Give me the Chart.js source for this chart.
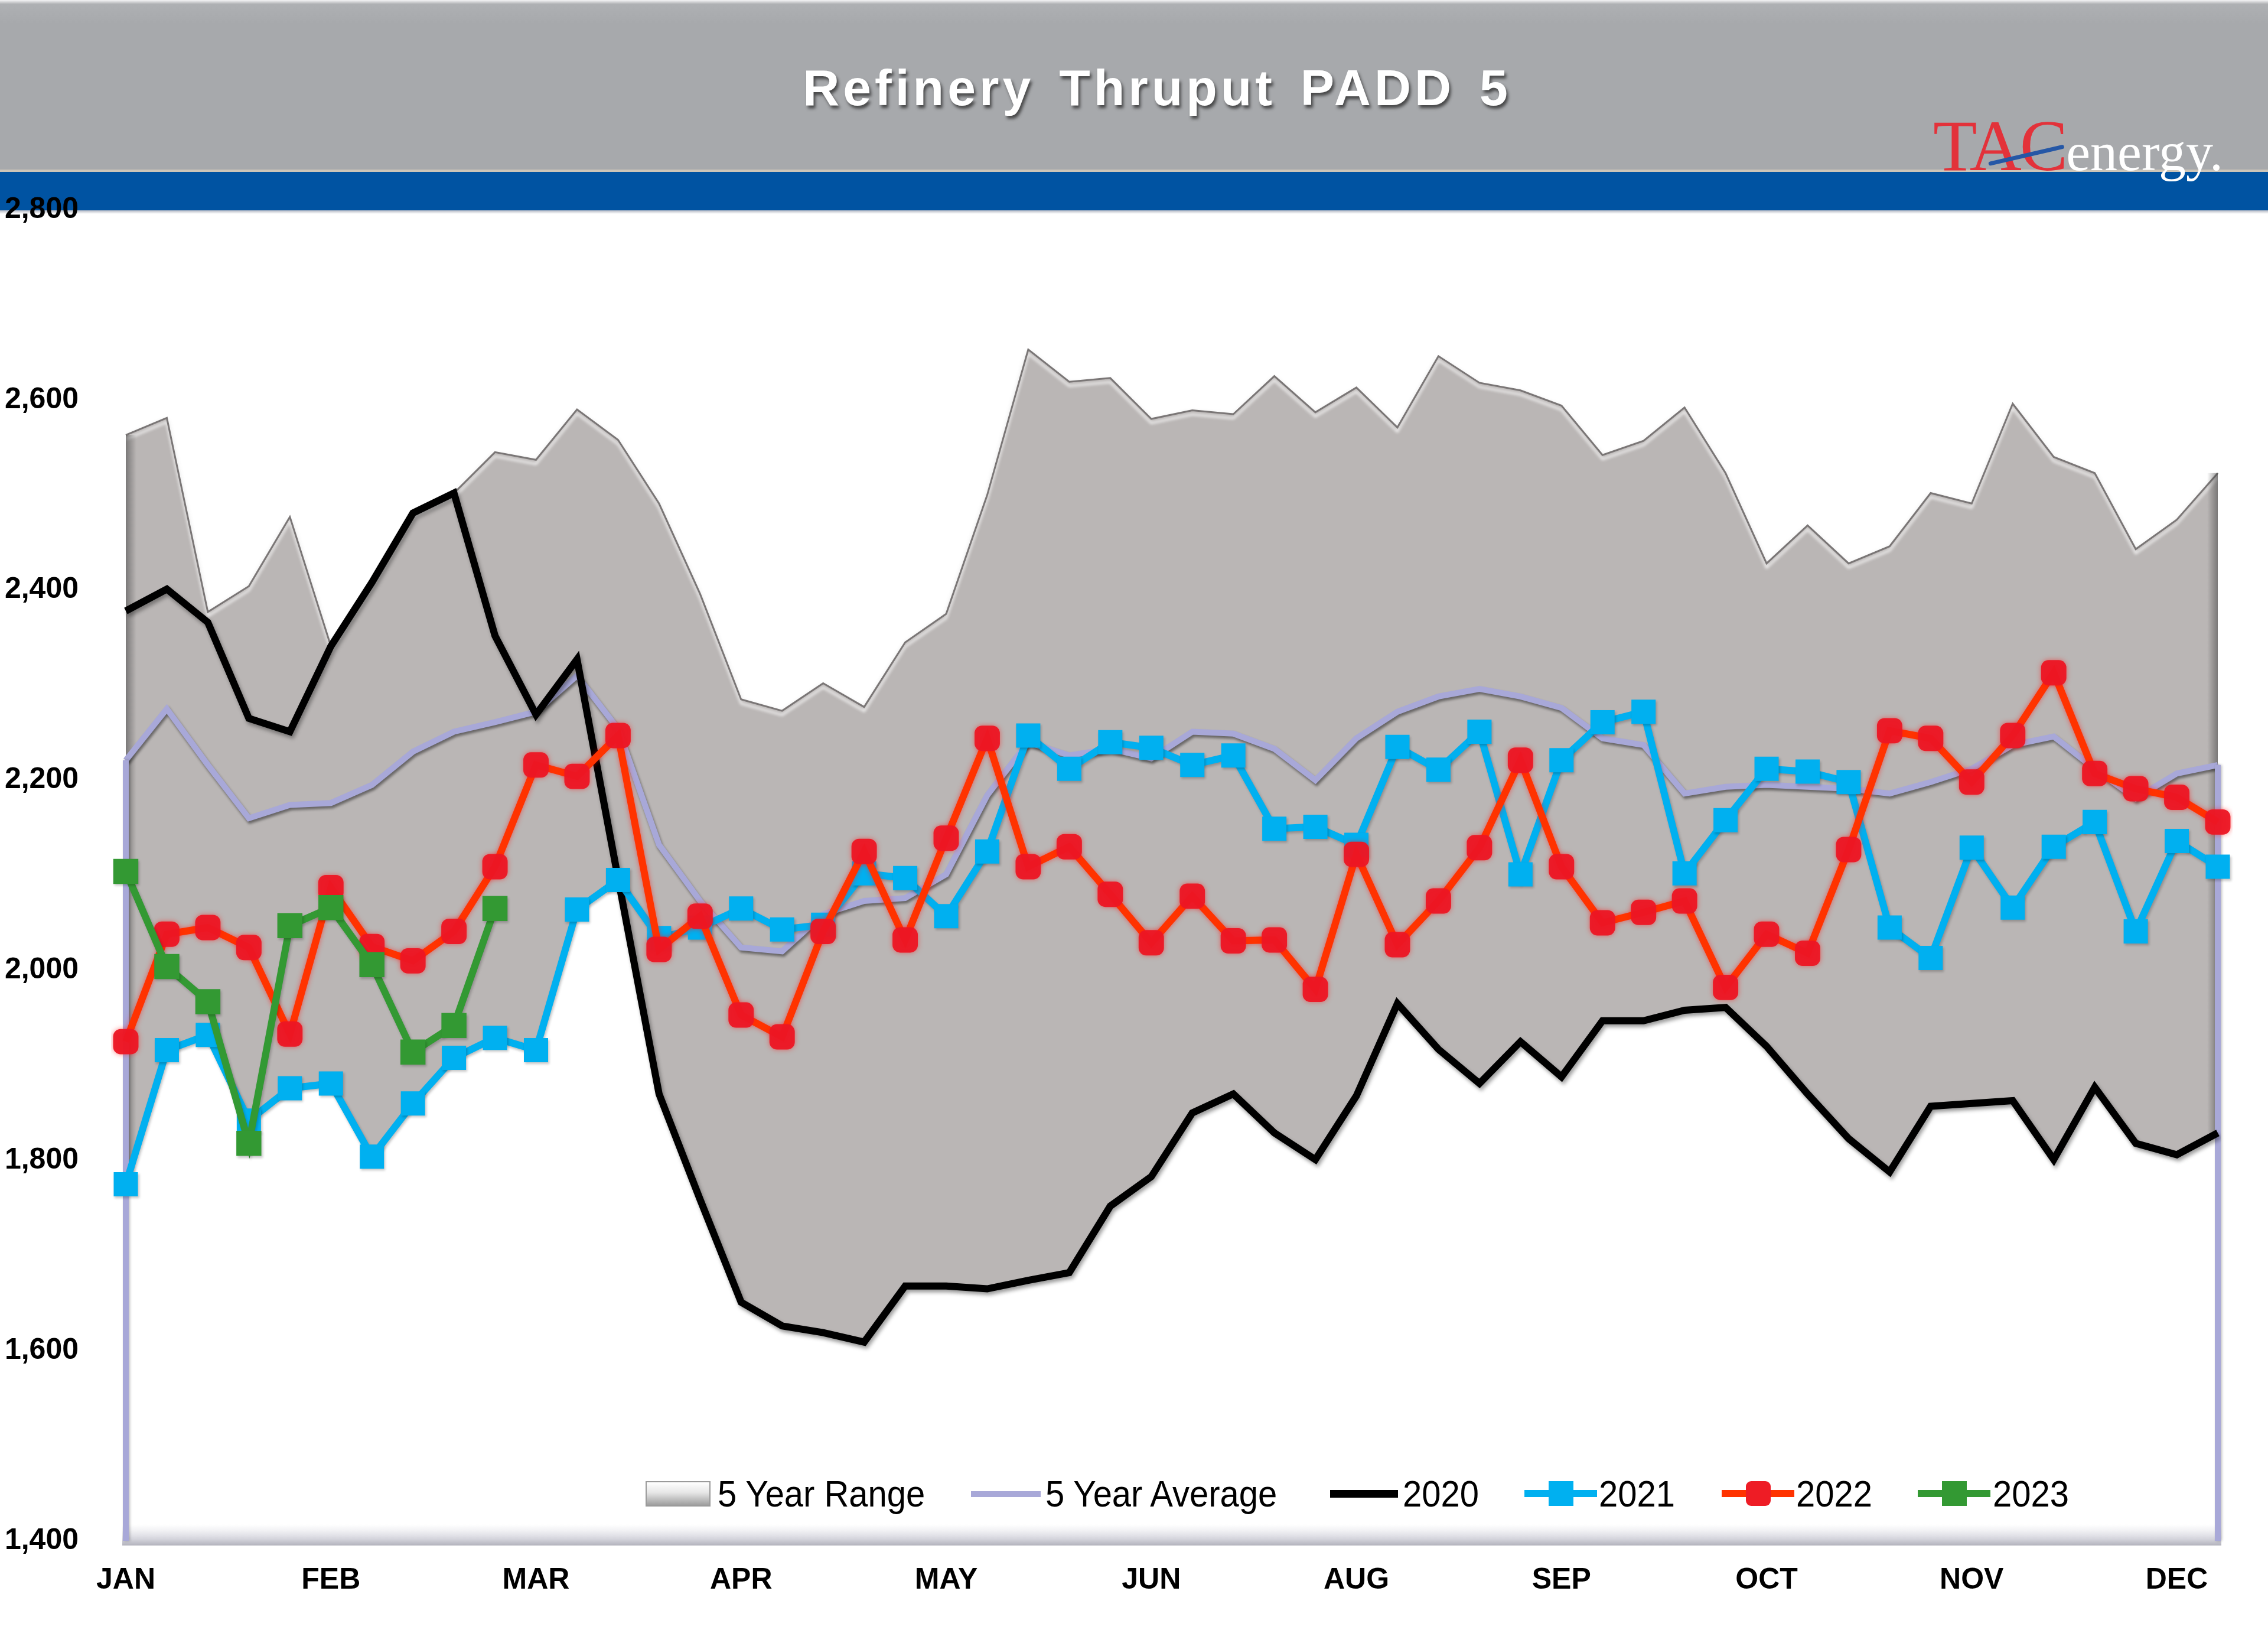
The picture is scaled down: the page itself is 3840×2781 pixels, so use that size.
<!DOCTYPE html>
<html>
<head>
<meta charset="utf-8">
<title>Refinery Thruput PADD 5</title>
<script src="https://cdn.jsdelivr.net/npm/chart.js@4.4.1/dist/chart.umd.min.js"></script>
<style>
  html, body { margin:0; padding:0; background:#ffffff; }
  body { width:3840px; height:2781px; position:relative; overflow:hidden; font-family:'Liberation Sans', Arial, sans-serif; }
  #hdr { position:absolute; left:0; top:0; width:3840px; height:290px;
         background:linear-gradient(to bottom, #f4f4f5 0px, #aeb0b3 7px, #a7a9ac 40px, #a7a9ac 100%); }
  #hdrline { position:absolute; left:0; top:287px; width:3840px; height:4px; background:#cdc5b8; }
  #band { position:absolute; left:0; top:291px; width:3840px; height:65px; background:#0053a2; }
  #bandline { position:absolute; left:0; top:356px; width:3840px; height:6px; background:linear-gradient(#b4b9c4, #ffffff); }
  #title { position:absolute; left:1959px; top:105px; transform:translateX(-50%); white-space:nowrap;
           font: bold 86px/86px 'Liberation Sans', Arial, sans-serif; letter-spacing:6px; word-spacing:12px; color:#ffffff;
           text-shadow: 3px 5px 5px rgba(40,40,40,0.75); }
  #logo { position:absolute; left:3273px; top:186px; white-space:nowrap; font-family:'Liberation Serif','Times New Roman',serif; font-size:122px; line-height:122px; }
  #logo .tac { color:#e3323a; letter-spacing:-3px; }
  #logo .en { color:#ffffff; font-size:92px; }
  #slash { position:absolute; left:3367px; top:274px; width:131px; height:7px; background:#2557a6; transform-origin:0 50%; transform:rotate(-13deg); border-radius:3px; }
  #wrap { position:absolute; left:0; top:0; width:3840px; height:2781px; }
  .lg { position:absolute; }
  .lt { position:absolute; top:2497px; font: 63px/63px 'Liberation Sans', Arial, sans-serif; color:#000; transform-origin:0 0; transform:scaleX(0.92); white-space:nowrap; }
</style>
</head>
<body>
<div id="hdr"></div>
<div id="hdrline"></div>
<div id="band"></div>
<div id="bandline"></div>
<div id="title">Refinery Thruput PADD 5</div>
<div id="logo"><span class="tac">TAC</span><span class="en">energy.</span></div>
<div id="slash"></div>
<div id="wrap"><canvas id="c"></canvas></div>

<!-- legend -->
<div class="lg" style="left:1093px;top:2507px;width:106px;height:39px;border:2px solid #9a9a9a;background:linear-gradient(#ffffff,#e6e6e6 45%,#9d9d9d);"></div>
<div class="lt" style="left:1215px;">5 Year Range</div>
<div class="lg" style="left:1644px;top:2524px;width:118px;height:10px;background:#a8a8d8;"></div>
<div class="lt" style="left:1770px;">5 Year Average</div>
<div class="lg" style="left:2252px;top:2522px;width:115px;height:13px;background:#000000;"></div>
<div class="lt" style="left:2375px;">2020</div>
<div class="lg" style="left:2581px;top:2522px;width:123px;height:12px;background:#00b0f0;"></div>
<div class="lg" style="left:2622px;top:2507px;width:42px;height:42px;background:#00b0f0;"></div>
<div class="lt" style="left:2707px;">2021</div>
<div class="lg" style="left:2915px;top:2522px;width:123px;height:12px;background:#ff3300;"></div>
<div class="lg" style="left:2956px;top:2507px;width:42px;height:42px;background:#ee1c25;border-radius:9px;"></div>
<div class="lt" style="left:3041px;">2022</div>
<div class="lg" style="left:3247px;top:2522px;width:123px;height:12px;background:#339933;"></div>
<div class="lg" style="left:3288px;top:2507px;width:42px;height:42px;background:#339933;"></div>
<div class="lt" style="left:3374px;">2023</div>

<script>
// ---- data (kb/d), weekly ----
const weekLabels = [1,2,3,4,5,6,7,8,9,10,11,12,13,14,15,16,17,18,19,20,21,22,23,24,25,26,
                    27,28,29,30,31,32,33,34,35,36,37,38,39,40,41,42,43,44,45,46,47,48,49,50,51,52];
const monthTicks = ['JAN','FEB','MAR','APR','MAY','JUN','AUG','SEP','OCT','NOV','DEC'];

const range5High = [2563,2581,2377,2404,2477,2341,2408,2481,2502,2545,2537,2590,2558,2491,2396,2285,2273,2302,2277,2345,
                    2375,2500,2653,2619,2623,2580,2589,2585,2625,2587,2613,2571,2646,2618,2610,2594,2542,2557,2592,2523,
                    2428,2468,2428,2446,2502,2491,2596,2540,2523,2443,2474,2523];
const range5Low  = [1775,1916,1932,1842,1876,1881,1804,1860,1908,1929,1916,2064,2095,1870,1759,1651,1626,1619,1609,1668,
                    1668,1665,1674,1682,1752,1783,1850,1870,1829,1801,1868,1965,1917,1881,1925,1888,1947,1947,1958,1961,
                    1920,1870,1823,1788,1857,1860,1863,1801,1877,1818,1806,1829];
const avg5       = [2221,2275,2216,2160,2174,2176,2195,2230,2251,2261,2272,2310,2254,2132,2073,2024,2020,2059,2073,2076,
                    2101,2184,2240,2226,2233,2223,2251,2249,2233,2200,2244,2272,2288,2296,2288,2276,2244,2237,2186,2193,
                    2195,2193,2191,2186,2198,2212,2237,2246,2212,2181,2207,2216];
const y2020      = [2378,2401,2366,2265,2251,2341,2408,2481,2502,2352,2269,2327,2097,1870,1759,1651,1626,1619,1609,1668,
                    1668,1665,1674,1682,1752,1783,1850,1870,1829,1801,1868,1965,1917,1881,1925,1888,1947,1947,1958,1961,
                    1920,1870,1823,1788,1857,1860,1863,1801,1877,1818,1806,1829];
const y2021      = [1775,1916,1932,1842,1876,1881,1804,1860,1908,1929,1916,2064,2095,2034,2045,2065,2043,2048,2102,2097,
                    2057,2125,2247,2212,2240,2234,2216,2226,2149,2151,2132,2235,2211,2251,2101,2221,2261,2272,2102,2158,
                    2212,2209,2198,2045,2013,2129,2066,2130,2156,2041,2136,2109];
const y2022      = [1925,2038,2045,2024,1933,2087,2025,2010,2041,2109,2216,2204,2247,2022,2057,1953,1930,2041,2125,2032,
                    2139,2244,2109,2130,2080,2029,2078,2031,2032,1980,2122,2027,2073,2129,2221,2109,2050,2061,2073,1982,
                    2038,2018,2127,2252,2244,2198,2247,2313,2207,2191,2182,2156];
const y2023      = [2104,2004,1967,1818,2047,2066,2006,1914,1942,2065];

const yMin = 1400, yMax = 2800, yStep = 200;

// ---- styling ----
const LAV = '#a8a8d8';
function setShadow(ctx, c, b, x, y) { ctx.shadowColor = c; ctx.shadowBlur = b; ctx.shadowOffsetX = x; ctx.shadowOffsetY = y; }
const lineFx = {
  range: ['rgba(255,255,255,0.95)', 5, 0, 7],
  low:   ['rgba(0,0,0,0)', 0, 0, 0],
  avg:   ['rgba(0,0,0,0.45)', 4, 2, 4],
  y2020: ['rgba(0,0,0,0.35)', 6, 3, 5],
  y2021: ['rgba(0,0,0,0.22)', 4, 2, 3],
  y2022: ['rgba(255,20,20,0.55)', 8, 0, 0],
  y2023: ['rgba(0,0,0,0.22)', 4, 2, 3]
};
const fillFx = ['rgba(0,0,0,0.22)', 10, 0, 4];

const fxPlugin = {
  id: 'fx',
  beforeDatasetsDraw(chart) {
    const ctx = chart.ctx, a = chart.chartArea;
    ctx.save();
    setShadow(ctx, 'rgba(0,0,0,0)', 0, 0, 0);
    const g = ctx.createLinearGradient(0, a.bottom - 28, 0, a.bottom + 8);
    g.addColorStop(0, 'rgba(228,228,234,0)');
    g.addColorStop(0.7, 'rgba(212,212,220,1)');
    g.addColorStop(1, 'rgba(178,178,188,1)');
    ctx.fillStyle = g;
    ctx.fillRect(a.left - 6, a.bottom - 28, a.right - a.left + 12, 36);
    ctx.restore();
    setShadow(ctx, ...fillFx);
  },
  beforeDatasetDraw(chart, args) {
    const k = chart.data.datasets[args.index].key;
    setShadow(chart.ctx, ...lineFx[k]);
  },
  afterDatasetDraw(chart, args) {
    const ctx = chart.ctx;
    const k = chart.data.datasets[args.index].key;
    const xs = chart.scales.x, ys = chart.scales.y, a = chart.chartArea;
    setShadow(ctx, 'rgba(0,0,0,0)', 0, 0, 0);
    const n = range5High.length - 1;
    if (k === 'range') {
      const x0 = xs.getPixelForValue(0), xN = xs.getPixelForValue(n);
      ctx.save();
      let g = ctx.createLinearGradient(x0, 0, x0 + 18, 0);
      g.addColorStop(0, 'rgba(70,70,70,0.55)'); g.addColorStop(1, 'rgba(70,70,70,0)');
      ctx.fillStyle = g;
      ctx.fillRect(x0, ys.getPixelForValue(range5High[0]), 18, ys.getPixelForValue(range5Low[0]) - ys.getPixelForValue(range5High[0]));
      g = ctx.createLinearGradient(xN - 18, 0, xN, 0);
      g.addColorStop(0, 'rgba(70,70,70,0)'); g.addColorStop(1, 'rgba(70,70,70,0.55)');
      ctx.fillStyle = g;
      ctx.fillRect(xN - 18, ys.getPixelForValue(range5High[n]), 18, ys.getPixelForValue(range5Low[n]) - ys.getPixelForValue(range5High[n]));
      ctx.restore();
    }
    if (k === 'avg') {
      ctx.save();
      setShadow(ctx, 'rgba(0,0,0,0.25)', 4, 2, 0);
      ctx.strokeStyle = LAV; ctx.lineWidth = 10; ctx.lineCap = 'butt';
      ctx.beginPath();
      const x0 = xs.getPixelForValue(0), xN = xs.getPixelForValue(n);
      ctx.moveTo(x0, ys.getPixelForValue(avg5[0])); ctx.lineTo(x0, a.bottom);
      ctx.moveTo(xN, ys.getPixelForValue(avg5[n])); ctx.lineTo(xN, a.bottom);
      ctx.stroke();
      ctx.restore();
    }
    setShadow(ctx, ...fillFx);
  },
  afterDatasetsDraw(chart) { setShadow(chart.ctx, 'rgba(0,0,0,0)', 0, 0, 0); }
};

const tickFont = { family: "'Liberation Sans', Arial, sans-serif", size: 50, weight: 'bold' };

new Chart(document.getElementById('c'), {
  type: 'line',
  data: {
    labels: weekLabels,
    datasets: [
      { key: 'y2023', label: '2023', data: y2023, order: 0, borderColor: '#339933', borderWidth: 12,
        pointStyle: 'rect', pointRadius: 30, pointBackgroundColor: '#339933', pointBorderWidth: 0, fill: false },
      { key: 'y2022', label: '2022', data: y2022, order: 1, borderColor: '#ff3300', borderWidth: 12,
        pointStyle: 'rectRounded', pointRadius: 25, pointBackgroundColor: 'rgba(236,22,36,0.95)', pointBorderWidth: 0, fill: false },
      { key: 'y2021', label: '2021', data: y2021, order: 2, borderColor: '#00b0f0', borderWidth: 12,
        pointStyle: 'rect', pointRadius: 29, pointBackgroundColor: '#00b0f0', pointBorderWidth: 0, fill: false },
      { key: 'y2020', label: '2020', data: y2020, order: 3, borderColor: '#000000', borderWidth: 12,
        pointRadius: 0, fill: false },
      { key: 'avg', label: '5 Year Average', data: avg5, order: 4, borderColor: LAV, borderWidth: 10,
        pointRadius: 0, fill: false },
      { key: 'range', label: '5 Year Range', data: range5High, order: 5, borderColor: '#7a7676', borderWidth: 3,
        pointRadius: 0, backgroundColor: '#bab6b5', fill: 6 },
      { key: 'low', label: 'range low', data: range5Low, order: 6, borderColor: 'rgba(0,0,0,0)', borderWidth: 0,
        pointRadius: 0, fill: false }
    ]
  },
  options: {
    responsive: true,
    maintainAspectRatio: false,
    animation: false,
    events: [],
    devicePixelRatio: 1,
    layout: { padding: { top: 355, right: 85, bottom: 0, left: 0 } },
    elements: { line: { tension: 0, borderJoinStyle: 'miter' } },
    plugins: { legend: { display: false }, tooltip: { enabled: false }, title: { display: false } },
    scales: {
      x: {
        type: 'category',
        offset: false,
        grid: { display: false, drawTicks: false },
        border: { display: false },
        afterFit(s) { s.height = 173; },
        ticks: {
          autoSkip: false, maxRotation: 0, minRotation: 0, padding: 37,
          color: '#000000', font: tickFont,
          callback: (v, i) => (i % 5 === 0 ? monthTicks[i / 5] : null)
        }
      },
      y: {
        min: yMin, max: yMax,
        grid: { display: false, drawTicks: false },
        border: { display: false },
        afterFit(s) { s.width = 213; },
        ticks: {
          stepSize: yStep, padding: 80, color: '#000000', font: tickFont,
          callback: (v) => Number(v).toLocaleString('en-US')
        }
      }
    }
  },
  plugins: [fxPlugin]
});
</script>
</body>
</html>
